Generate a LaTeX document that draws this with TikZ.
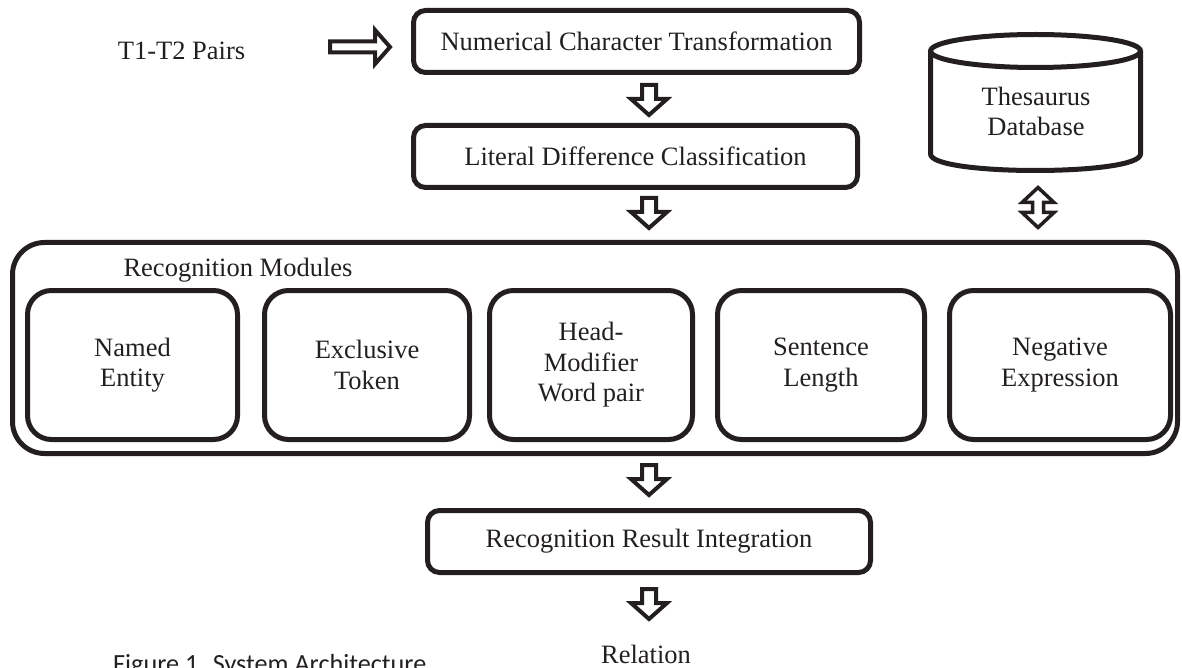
\documentclass[tikz,border=0pt]{standalone}
\usepackage{fontspec}
\setmainfont{Liberation Serif}
\newfontfamily\capfont{Carlito}
\definecolor{ink}{RGB}{35,31,32}
\newcommand\mainfs{\fontsize{26.5}{30.5}\selectfont}
\begin{document}
\begin{tikzpicture}[x=1pt,y=-1pt,
  txt/.style={font=\mainfs, text=ink, inner sep=0pt},
  box/.style={draw=ink, line width=5pt, rounded corners=12pt, inner sep=0pt,
    align=center, font=\mainfs, text=ink, minimum height=62pt},
  modbox/.style={box, rounded corners=24pt, minimum height=149pt},
  blk/.style={draw=ink, line width=4pt, fill=white, line join=miter},
  downblk/.pic={\draw[blk] (-7,0) -- (7,0) -- (7,14) -- (18,14) -- (0,30) -- (-18,14) -- (-7,14) -- cycle;},
  rightblk/.pic={\draw[blk] (0,-5.5) -- (45,-5.5) -- (45,-17) -- (60,0) -- (45,17) -- (45,5.5) -- (0,5.5) -- cycle;},
  updownblk/.pic={\draw[blk, line width=3.5pt] (0,0) -- (16,15) -- (5.5,15) -- (5.5,25) -- (16,25) -- (0,40) -- (-16,25) -- (-5.5,25) -- (-5.5,15) -- (-16,15) -- cycle;}
]
\useasboundingbox (0,0) rectangle (1182,668);

% top chain
\node[box, minimum width=446pt] (nct) at (636.5,41.5) {Numerical Character Transformation};
\node[box, minimum width=444pt] (ldc) at (635.5,156.5) {Literal Difference Classification};
\node[txt, anchor=base] (t12) at (181.5,59.5) {T1-T2 Pairs};
\pic at (330,47) {rightblk};
\pic at (649,85) {downblk};
\pic at (649,198) {downblk};

% database cylinder
\draw[draw=ink, line width=5pt, fill=white]
  (930.5,51) -- (930.5,154) .. controls (930.5,176) and (1140.5,176) .. (1140.5,154) -- (1140.5,51);
\draw[draw=ink, line width=5pt] (1035.5,51) ellipse [x radius=105, y radius=16.5];
\node[txt, align=center] (db) at (1036,111.5) {Thesaurus\\Database};
\pic at (1038,187.5) {updownblk};

% recognition modules
\node[box, rounded corners=32pt, minimum width=1165pt, minimum height=211pt] (rm) at (595,348) {};
\node[txt, anchor=base] (rmlabel) at (238,276) {Recognition Modules};
\node[modbox, minimum width=210pt] (ne) at (132.5,365) {Named\\Entity};
\node[modbox, minimum width=205pt] (et) at (367,365) {Exclusive\\Token};
\node[modbox, minimum width=203pt] (hm) at (591,365) {Head-\\Modifier\\Word pair};
\node[modbox, minimum width=207pt] (sl) at (821,365) {Sentence\\Length};
\node[modbox, minimum width=221pt] (nx) at (1060,365) {Negative\\Expression};

% bottom chain
\pic at (649,465) {downblk};
\node[box, minimum width=443pt] (rri) at (649,541.5) {Recognition Result Integration};
\pic at (649,589) {downblk};
\node[txt, anchor=base] (rel) at (646,663) {Relation};

\node[font=\capfont\fontsize{26.2}{30}\selectfont, text=ink, inner sep=0pt, anchor=base west] (cap) at (113,672) {Figure 1. System Architecture};
\end{tikzpicture}
\end{document}
